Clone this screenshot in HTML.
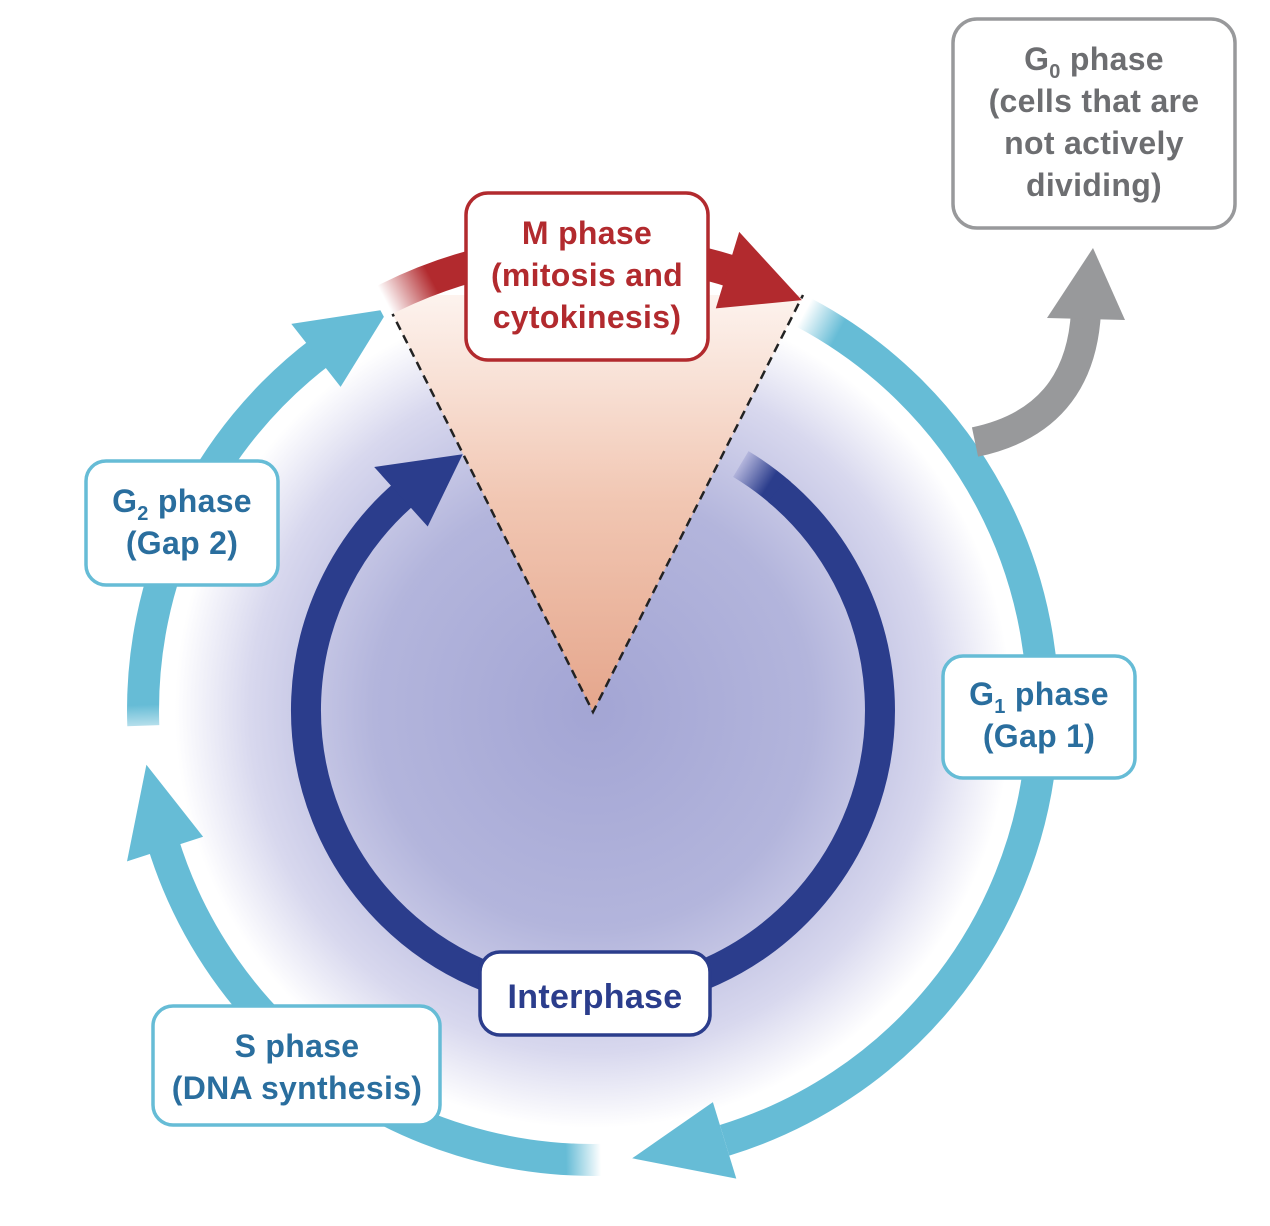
<!DOCTYPE html>
<html><head><meta charset="utf-8"><style>
html,body{margin:0;padding:0;background:#fff;}
svg{display:block;}
text{font-family:"Liberation Sans",sans-serif;font-weight:bold;text-anchor:middle;letter-spacing:0.3px;}
</style></head><body>
<svg width="1270" height="1226" viewBox="0 0 1270 1226" xmlns="http://www.w3.org/2000/svg">
<defs>
<radialGradient id="bg" cx="593" cy="710" r="440" gradientUnits="userSpaceOnUse">
<stop offset="0" stop-color="#a3a5d4"/>
<stop offset="0.5" stop-color="#b3b5dc"/>
<stop offset="0.78" stop-color="#d8d8ee"/>
<stop offset="0.95" stop-color="#ffffff"/>
</radialGradient>
<linearGradient id="tri" x1="0" y1="295" x2="0" y2="712" gradientUnits="userSpaceOnUse">
<stop offset="0" stop-color="#fdf3ee"/>
<stop offset="0.5" stop-color="#f1c6b2"/>
<stop offset="1" stop-color="#e5a68c"/>
</linearGradient>
<linearGradient id="gG1" x1="804" y1="313" x2="839" y2="332" gradientUnits="userSpaceOnUse">
<stop offset="0" stop-color="#fff"/><stop offset="1" stop-color="#66bcd6"/>
</linearGradient>
<linearGradient id="gS" x1="601" y1="1160" x2="566" y2="1160.6" gradientUnits="userSpaceOnUse">
<stop offset="0" stop-color="#fff"/><stop offset="1" stop-color="#66bcd6"/>
</linearGradient>
<linearGradient id="gG2" x1="143.3" y1="745" x2="141.9" y2="705" gradientUnits="userSpaceOnUse">
<stop offset="0" stop-color="#fff"/><stop offset="1" stop-color="#66bcd6"/>
</linearGradient>
<linearGradient id="gM" x1="385" y1="300" x2="430" y2="276" gradientUnits="userSpaceOnUse">
<stop offset="0" stop-color="#fff"/><stop offset="1" stop-color="#b22a2e"/>
</linearGradient>
<linearGradient id="gI" x1="740.8" y1="464" x2="770" y2="483" gradientUnits="userSpaceOnUse">
<stop offset="0" stop-color="#b3b5dc"/><stop offset="1" stop-color="#2b3d8c"/>
</linearGradient>
</defs>

<circle cx="593" cy="710" r="450" fill="url(#bg)"/>

<polygon points="383,295 593,712 803,295" fill="url(#tri)"/>
<polyline points="383,295 593,712 803,295" fill="none" stroke="#222" stroke-width="2.5" stroke-dasharray="9,6"/>

<path d="M804.3,312.7 A450,450 0 0 1 724.6,1140.3" fill="none" stroke="url(#gG1)" stroke-width="32"/>
<polygon points="632.2,1158.3 736.3,1178.6 712.9,1102.1" fill="#66bcd6"/>

<path d="M600.9,1159.9 A450,450 0 0 1 162.7,841.6" fill="none" stroke="url(#gS)" stroke-width="32"/>
<polygon points="146.4,764.8 127,861.4 203.1,836.7" fill="#66bcd6"/>

<path d="M143.3,725.7 A450,450 0 0 1 322.2,350.6" fill="none" stroke="url(#gG2)" stroke-width="32"/>
<polygon points="388.7,309 291.3,323.9 340.6,386.9" fill="#66bcd6"/>

<path d="M377,303.9 A460,460 0 0 1 735.1,272.5" fill="none" stroke="url(#gM)" stroke-width="32"/>
<polygon points="801.8,300.1 739.2,231.9 715.8,308.4" fill="#b22a2e"/>

<path d="M740.8,464 A287,287 0 0 1 781.3,493.4" fill="none" stroke="url(#gI)" stroke-width="30"/>
<path d="M777.5,490.2 A287,287 0 1 1 404.7,493.4" fill="none" stroke="#2b3d8c" stroke-width="30"/>
<polygon points="462.7,454.3 374.2,467 427.7,526.5" fill="#2b3d8c"/>

<path d="M975,442 Q1080,420 1086,312" fill="none" stroke="#98999b" stroke-width="30"/>
<polygon points="1093,248 1047,318 1125,320" fill="#98999b"/>

<rect x="466" y="193" width="242" height="167" rx="22" fill="#fff" stroke="#b22a2e" stroke-width="3.5"/>
<text fill="#b22a2e" font-size="32"><tspan x="587" y="244">M phase</tspan><tspan x="587" y="286">(mitosis and</tspan><tspan x="587" y="328">cytokinesis)</tspan></text>

<rect x="953" y="19" width="282" height="209" rx="24" fill="#fff" stroke="#98999b" stroke-width="3.5"/>
<text fill="#6d6e71" font-size="32"><tspan x="1094" y="70">G<tspan font-size="20" dy="8">0</tspan><tspan dy="-8"> phase</tspan></tspan><tspan x="1094" y="112">(cells that are</tspan><tspan x="1094" y="154">not actively</tspan><tspan x="1094" y="196">dividing)</tspan></text>

<rect x="86" y="461" width="192" height="124" rx="20" fill="#fff" stroke="#66bcd6" stroke-width="3.5"/>
<text fill="#2a6e9e" font-size="32"><tspan x="182" y="512">G<tspan font-size="20" dy="8">2</tspan><tspan dy="-8"> phase</tspan></tspan><tspan x="182" y="554">(Gap 2)</tspan></text>

<rect x="943" y="656" width="192" height="122" rx="20" fill="#fff" stroke="#66bcd6" stroke-width="3.5"/>
<text fill="#2a6e9e" font-size="32"><tspan x="1039" y="705">G<tspan font-size="20" dy="8">1</tspan><tspan dy="-8"> phase</tspan></tspan><tspan x="1039" y="747">(Gap 1)</tspan></text>

<rect x="480" y="952" width="230" height="83" rx="20" fill="#fff" stroke="#2b3d8c" stroke-width="3.5"/>
<text fill="#2b3d8c" font-size="34" x="595" y="1008">Interphase</text>

<rect x="153" y="1006" width="287" height="119" rx="20" fill="#fff" stroke="#66bcd6" stroke-width="3.5"/>
<text fill="#2a6e9e" font-size="32"><tspan x="297" y="1057">S phase</tspan><tspan x="297" y="1099">(DNA synthesis)</tspan></text>
</svg>
</body></html>
